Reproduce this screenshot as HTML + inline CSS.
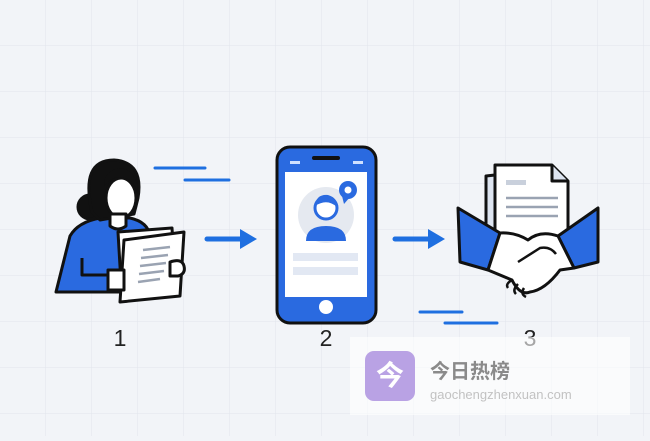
<!DOCTYPE html><html><head><style>body{margin:0;width:650px;height:436px;overflow:hidden;background:#f2f4f8}</style></head><body>
<svg width="650" height="436" xmlns="http://www.w3.org/2000/svg" font-family="Liberation Sans, Noto Sans CJK SC, sans-serif">
<defs><pattern id="g" width="46" height="46" patternUnits="userSpaceOnUse" x="0" y="0"><path d="M46 0V46H0" fill="none" stroke="#e1e5ec" stroke-width="1"/></pattern></defs>
<rect width="650" height="436" fill="#f2f4f8"/><rect width="650" height="436" fill="url(#g)"/>
<g stroke="#1f6fe0" stroke-width="3" stroke-linecap="round"><line x1="155" y1="168" x2="205" y2="168"/><line x1="185" y1="180" x2="229" y2="180"/><line x1="420" y1="312" x2="462" y2="312"/><line x1="445" y1="323" x2="497" y2="323"/><line x1="207" y1="239" x2="243" y2="239" stroke-width="5"/><line x1="395" y1="239" x2="431" y2="239" stroke-width="5"/></g>
<path d="M240 229L257 239L240 249Z M428 229L445 239L428 249Z" fill="#1f6fe0"/>
<!-- person -->
<g stroke="#111" stroke-width="3" stroke-linejoin="round">
<path d="M56 292 L70 236 Q78 222 100 218 L130 218 Q148 222 150 236 L150 292Z" fill="#2a6ae0"/>
<circle cx="90" cy="207" r="12" fill="#111"/>
<path d="M92 212 Q80 160 114 160 Q144 162 138 198 L134 214 L100 220Z" fill="#111"/>
<ellipse cx="121" cy="198" rx="15" ry="20" fill="#fff"/>
<path d="M110 214 L110 226 Q118 232 126 226 L126 214Z" fill="#fff"/>
<path d="M82 258 L82 275 L120 275" fill="none"/>
<path d="M118 232 L172 228 L176 290 L122 300Z" fill="#fff"/>
<path d="M124 240 L184 232 L180 296 L120 302Z" fill="#fff"/>
<path d="M170 262 Q182 258 184 266 Q186 274 178 276 L170 276Z" fill="#fff"/>
<path d="M108 270 L124 270 L124 290 L108 290Z" fill="#fff"/>
</g>
<path d="M104 186 Q114 172 130 180 L138 190 Q136 170 120 168 Q104 170 104 186Z" fill="#111"/>
<g stroke="#9aa3b2" stroke-width="2.5"><line x1="143" y1="250" x2="170" y2="247"/><line x1="141" y1="258" x2="168" y2="255"/><line x1="140" y1="266" x2="166" y2="263"/><line x1="139" y1="274" x2="164" y2="271"/><line x1="138" y1="282" x2="160" y2="279"/></g>
<!-- phone -->
<rect x="277" y="147" width="99" height="176" rx="13" fill="#2a6ae0" stroke="#111" stroke-width="3"/>
<rect x="285" y="172" width="82" height="125" fill="#fff"/>
<rect x="312" y="156" width="28" height="4" rx="2" fill="#111"/>
<rect x="290" y="161" width="10" height="3" fill="#cfe0ff"/><rect x="353" y="161" width="10" height="3" fill="#cfe0ff"/>
<circle cx="326" cy="215" r="28" fill="#e5e9f0"/>
<path d="M306 241 Q306 226 326 226 Q346 226 346 241Z" fill="#2a6ae0"/>
<circle cx="326" cy="208" r="11" fill="#fff" stroke="#2a6ae0" stroke-width="3"/>
<path d="M315 206 Q316 194 328 195 Q338 198 337 207 Q327 198 315 206Z" fill="#2a6ae0"/>
<circle cx="348" cy="190" r="9" fill="#2a6ae0"/><path d="M342 196 L344 204 L350 197Z" fill="#2a6ae0"/><circle cx="348" cy="190" r="3.5" fill="#fff"/>
<rect x="293" y="253" width="65" height="8" fill="#e2e8f3"/><rect x="293" y="267" width="65" height="8" fill="#e2e8f3"/>
<circle cx="326" cy="307" r="7" fill="#fff"/>
<!-- handshake -->
<g stroke="#111" stroke-width="3" stroke-linejoin="round">
<path d="M486 176 L540 170 L540 250 L486 255Z" fill="#dde4f0"/>
<path d="M495 165 L552 165 L568 181 L568 255 L495 255Z" fill="#fff"/>
<path d="M552 165 L552 181 L568 181" fill="#dde4f0"/>
<path d="M458 208 L500 233 L488 270 L460 262Z" fill="#2a6ae0"/>
<path d="M598 208 L598 262 L574 268 L558 236Z" fill="#2a6ae0"/>
<path d="M500 233 L488 270 L512 280 Q520 296 530 292 Q545 290 560 270 L574 268 L558 236 Q540 230 528 240 Q515 232 500 233Z" fill="#fff"/>
</g>
<g stroke="#111" stroke-width="2.5" fill="none"><path d="M518 262 L540 248 Q550 246 556 254"/><path d="M512 280 Q505 284 508 288 M518 284 Q512 290 516 294 M524 288 Q520 294 526 297"/></g>
<rect x="506" y="180" width="20" height="5" fill="#c9d0dc"/>
<g stroke="#9aa3b2" stroke-width="2.5"><line x1="506" y1="198" x2="558" y2="198"/><line x1="506" y1="207" x2="558" y2="207"/><line x1="506" y1="216" x2="558" y2="216"/></g>
<g font-size="23" fill="#222" text-anchor="middle"><text x="120" y="346">1</text><text x="326" y="346">2</text><text x="530" y="346">3</text></g>
<!-- watermark -->
<rect x="350" y="337" width="280" height="78" fill="#fff" opacity="0.6"/>
<rect x="365" y="351" width="50" height="50" rx="9" fill="#b9a2e4"/>
<text x="390" y="385" font-size="28" font-weight="bold" fill="#fff" text-anchor="middle">今</text>
<text x="430" y="378" font-size="20" font-weight="bold" fill="#8a8a8a">今日热榜</text>
<text x="430" y="399" font-size="13" fill="#c2c2c2">gaochengzhenxuan.com</text>
</svg></body></html>
